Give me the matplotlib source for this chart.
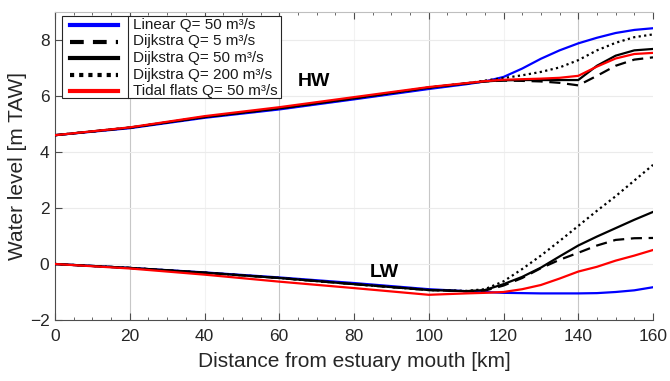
import matplotlib
matplotlib.use("Agg")
import matplotlib.pyplot as plt
from matplotlib.lines import Line2D
from matplotlib.patches import Rectangle
from matplotlib.ticker import MultipleLocator

plt.rcParams['font.family'] = ['Liberation Sans', 'DejaVu Sans']

# distance along estuary [km]
x = [0, 20, 40, 60, 80, 100, 110, 115, 120, 125, 130, 135, 140, 145, 150, 155, 160]

# High water levels [m TAW]
hw_linear   = [4.6, 4.85, 5.22, 5.52, 5.88, 6.25, 6.42, 6.52, 6.68, 6.98, 7.33, 7.63, 7.88, 8.08, 8.25, 8.36, 8.42]
hw_d5       = [4.6, 4.87, 5.25, 5.56, 5.92, 6.3, 6.45, 6.52, 6.55, 6.54, 6.52, 6.47, 6.38, 6.72, 7.08, 7.3, 7.38]
hw_d50      = [4.6, 4.87, 5.25, 5.56, 5.92, 6.3, 6.45, 6.52, 6.56, 6.57, 6.57, 6.57, 6.57, 7.08, 7.44, 7.63, 7.68]
hw_d200     = [4.6, 4.87, 5.25, 5.56, 5.92, 6.3, 6.45, 6.55, 6.64, 6.74, 6.86, 7.02, 7.28, 7.63, 7.9, 8.1, 8.2]
hw_tidal    = [4.6, 4.88, 5.28, 5.6, 5.96, 6.32, 6.46, 6.53, 6.58, 6.6, 6.62, 6.65, 6.72, 7.05, 7.34, 7.5, 7.54]

# Low water levels [m TAW]
lw_linear   = [0.0, -0.14, -0.3, -0.48, -0.68, -0.9, -0.97, -1.0, -1.03, -1.04, -1.05, -1.05, -1.05, -1.04, -1.0, -0.94, -0.83]
lw_d5       = [0.0, -0.14, -0.31, -0.5, -0.72, -0.93, -0.97, -0.95, -0.77, -0.5, -0.15, 0.15, 0.4, 0.66, 0.86, 0.92, 0.93]
lw_d50      = [0.0, -0.14, -0.31, -0.5, -0.72, -0.93, -0.97, -0.93, -0.72, -0.46, -0.13, 0.27, 0.66, 0.98, 1.28, 1.58, 1.86]
lw_d200     = [0.0, -0.14, -0.31, -0.5, -0.72, -0.93, -0.96, -0.9, -0.62, -0.18, 0.3, 0.82, 1.36, 1.9, 2.42, 2.98, 3.54]
lw_tidal    = [0.0, -0.16, -0.38, -0.63, -0.86, -1.1, -1.05, -1.03, -1.0, -0.9, -0.75, -0.52, -0.27, -0.1, 0.12, 0.3, 0.5]

labels = ['Linear Q= 50 m³/s', 'Dijkstra Q= 5 m³/s', 'Dijkstra Q= 50 m³/s',
          'Dijkstra Q= 200 m³/s', 'Tidal flats Q= 50 m³/s']

W, H = 670, 381
fig = plt.figure(figsize=(W / 100, H / 100), dpi=100)
ax = fig.add_axes([55 / W, 61 / H, 598 / W, 308 / H])

lw = 1.6
styles = [
    dict(color=(0, 0, 1), ls='-'),
    dict(color='black', ls=(0, (5, 3))),
    dict(color='black', ls='-'),
    dict(color='black', ls=(0, (1, 1.5))),
    dict(color=(1, 0, 0), ls='-'),
]
hw = [hw_linear, hw_d5, hw_d50, hw_d200, hw_tidal]
lwv = [lw_linear, lw_d5, lw_d50, lw_d200, lw_tidal]
for i in range(5):
    ax.plot(x, hw[i], lw=lw, **styles[i], zorder=3)
    ax.plot(x, lwv[i], lw=lw, **styles[i], zorder=3)

ax.set_xlim(0, 160)
ax.set_ylim(-2, 9)
ax.set_xticks([0, 20, 40, 60, 80, 100, 120, 140, 160])
ax.set_yticks([-2, 0, 2, 4, 6, 8])
ax.xaxis.set_minor_locator(MultipleLocator(5))
ax.tick_params(axis='both', which='both', direction='in', colors='0.3',
               labelcolor='0.15', labelsize=12.5, top=True)
ax.tick_params(axis='both', which='major', length=5)
ax.tick_params(axis='both', which='minor', length=2.5)
ax.tick_params(axis='x', which='major', pad=6.5)
ax.tick_params(axis='y', which='major', pad=4)
ax.tick_params(axis='y', which='minor', left=False)

# grid
for gx in [20, 60, 100, 140]:
    ax.axvline(gx, color='0.78', lw=0.8, zorder=1)
for gx in [40, 80, 120]:
    ax.axvline(gx, color='0.95', lw=0.8, zorder=1)
for gy in [0, 2, 4, 6, 8]:
    ax.axhline(gy, color='0.92', lw=0.8, zorder=1)

for s in ['left', 'bottom']:
    ax.spines[s].set_color('0.3')
    ax.spines[s].set_linewidth(0.8)
ax.spines['top'].set_color('0.75')
ax.spines['top'].set_linewidth(0.8)
ax.spines['right'].set_visible(False)

ax.set_xlabel('Distance from estuary mouth [km]', fontsize=15, color='0.15', labelpad=6)
ax.set_ylabel('Water level [m TAW]', fontsize=15, color='0.15', labelpad=2)

ax.text(65, 6.5, 'HW', fontsize=14, fontweight='bold', ha='left', va='center', zorder=4)
ax.text(84.3, -0.32, 'LW', fontsize=14, fontweight='bold', ha='left', va='center', zorder=4)

# MATLAB-style legend drawn in figure pixel space
def fx(px):
    return px / W

def fy(py):
    return 1 - py / H

fig.add_artist(Rectangle((fx(62), fy(98)), fx(281) - fx(62), fy(16) - fy(98),
                         facecolor='white', edgecolor='0.15', lw=0.8,
                         transform=fig.transFigure, zorder=20))
fig.add_artist(Line2D([fx(128), fx(128)], [fy(16), fy(98)], color='0.15', lw=0.8,
                      transform=fig.transFigure, zorder=21))
leg_styles = [dict(styles[0]), dict(styles[1]), dict(styles[2]), dict(styles[3]), dict(styles[4])]
leg_styles[1]['ls'] = (0, (3.3, 2.2))
leg_styles[3]['ls'] = (0, (1, 1.2))
row_y = [25, 41.5, 58, 74.5, 91]
for i, lab in enumerate(labels):
    fig.add_artist(Line2D([fx(70), fx(118)], [fy(row_y[i])] * 2, lw=3,
                          transform=fig.transFigure, zorder=22, **leg_styles[i]))
    fig.text(fx(133), fy(row_y[i]), lab, fontsize=11, color='0.1',
             ha='left', va='center', zorder=22)

fig.savefig('out.png', dpi=100)
